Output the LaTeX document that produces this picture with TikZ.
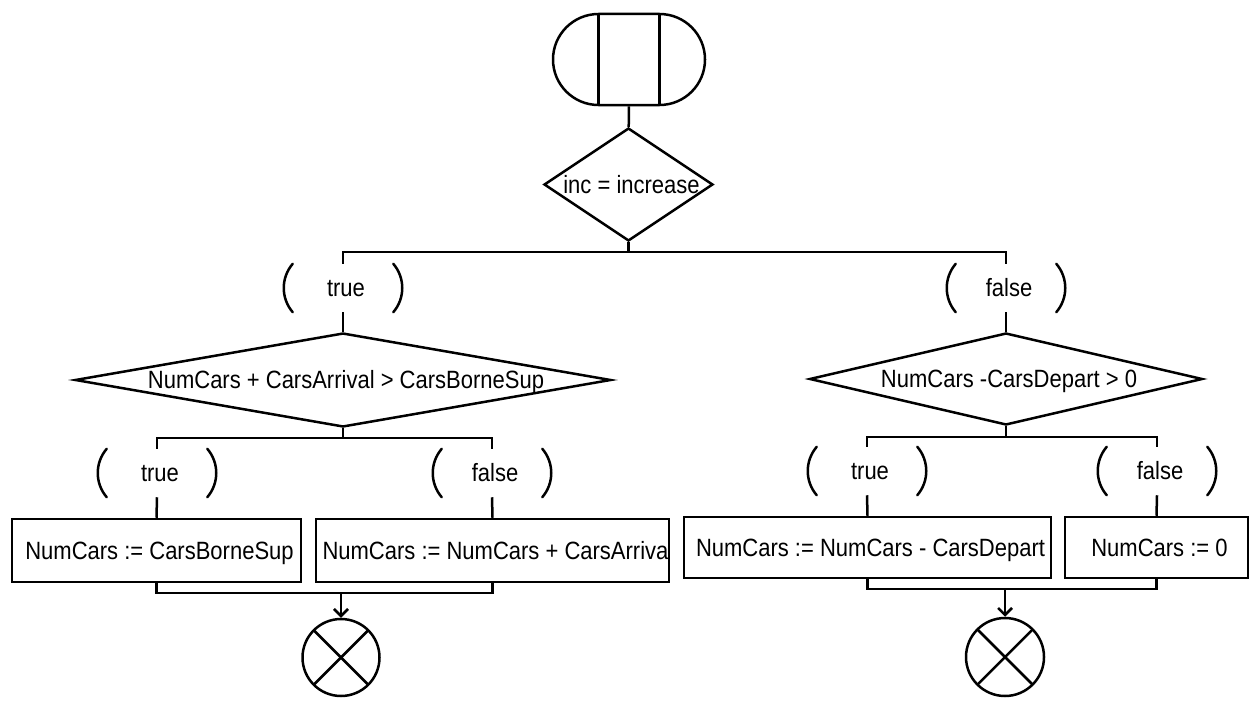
\documentclass[tikz,border=0pt]{standalone}
\usepackage{fontspec}
\setmainfont{Liberation Sans}[FakeStretch=0.88]
\usetikzlibrary{shapes.geometric,shapes.misc,arrows.meta}

\begin{document}
\begin{tikzpicture}[x=1pt,y=-1pt,
  line width=2.5pt,
  font=\fontsize{25}{28}\selectfont,
  every label/.style={text height=17.5pt,text depth=0pt,inner sep=0pt,xshift=3pt},
  decision/.style={draw,diamond,inner sep=0pt},
  action/.style={draw,rectangle,inner sep=0pt},
  branch/.style={inner sep=0pt,minimum width=98,minimum height=46},
  terminal/.style={draw,circle,inner sep=0pt,
    path picture={
      \draw (path picture bounding box.north west) -- (path picture bounding box.south east);
      \draw (path picture bounding box.north east) -- (path picture bounding box.south west);
    }},
  flow/.style={-{Straight Barb[length=7pt,width=14pt]}},
  paren/.style={line cap=round}
]
\useasboundingbox (0,0) rectangle (1249,709);

% start symbol
\node[draw,rounded rectangle,minimum width=152,minimum height=91,inner sep=0pt] (start) at (629,59.5) {};
\node[draw,minimum width=61,minimum height=91,inner sep=0pt] (startbar) at (start.center) {};

% first decision and its branches
\node[decision,minimum width=169,minimum height=113,label=center:{inc = increase}] (d0) at (628.5,184.5) {};
\node[branch,label=center:true] (t1) at (343,288) {};
\node[branch,label=center:false] (f1) at (1006,288) {};

% nested decisions
\node[decision,minimum width=536,minimum height=94,label=center:{NumCars + CarsArrival > CarsBorneSup}] (d1) at (343,380) {};
\node[decision,minimum width=393,minimum height=92,label=center:{NumCars -CarsDepart > 0}] (d2) at (1006,379) {};

\node[branch,label=center:true] (t2) at (157,473) {};
\node[branch,label=center:false] (f2) at (492,473) {};
\node[branch,label=center:true] (t3) at (867,471) {};
\node[branch,label=center:false] (f3) at (1157,471) {};

% assignments
\node[action,minimum width=289,minimum height=63,label=center:{NumCars := CarsBorneSup}] (b1) at (156.5,550.5) {};
\node[action,minimum width=353,minimum height=63,label=center:{NumCars := NumCars + CarsArriva}] (b2) at (492.5,550.5) {};
\node[action,minimum width=367,minimum height=61,label=center:{NumCars := NumCars - CarsDepart}] (b3) at (867.5,547.5) {};
\node[action,minimum width=183,minimum height=61,label=center:{NumCars := 0}] (b4) at (1156.5,547.5) {};

% end symbols
\node[terminal,minimum size=77] (e1) at (341,657.5) {};
\node[terminal,minimum size=78] (e2) at (1005,657) {};

% junction points
\coordinate (j0) at (628.5,252);
\coordinate (j1) at (343,438);
\coordinate (j2) at (1006,437);
\coordinate (m1) at (341,593);
\coordinate (m2) at (1005,589);

% connectors
\draw (start) -- (d0);
\draw (d0.south) -- (j0);
\draw (t1.north) -- (t1.north |- j0) -- (f1.north |- j0) -- (f1.north);
\draw (t1.south) -- (d1.north);
\draw (f1.south) -- (d2.north);

\draw (d1.south) -- (j1);
\draw (t2.north) -- (t2.north |- j1) -- (f2.north |- j1) -- (f2.north);
\draw (t2.south) -- (b1.north);
\draw (f2.south) -- (b2.north);

\draw (d2.south) -- (j2);
\draw (t3.north) -- (t3.north |- j2) -- (f3.north |- j2) -- (f3.north);
\draw (t3.south) -- (b3.north);
\draw (f3.south) -- (b4.north);

\draw (b1.south) -- (b1.south |- m1) -- (b2.south |- m1) -- (b2.south);
\draw[flow] (m1) -- (e1.north);
\draw (b3.south) -- (b3.south |- m2) -- (b4.south |- m2) -- (b4.south);
\draw[flow] (m2) -- (e2.north);

% parentheses around the branch labels
\foreach \n in {t1,f1,t2,f2,t3,f3} {
  \draw[paren] (\n.north west) .. controls +(-12,14) and +(-12,-14) .. (\n.south west);
  \draw[paren] (\n.north east) .. controls +(12,14) and +(12,-14) .. (\n.south east);
}
\end{tikzpicture}
\end{document}
